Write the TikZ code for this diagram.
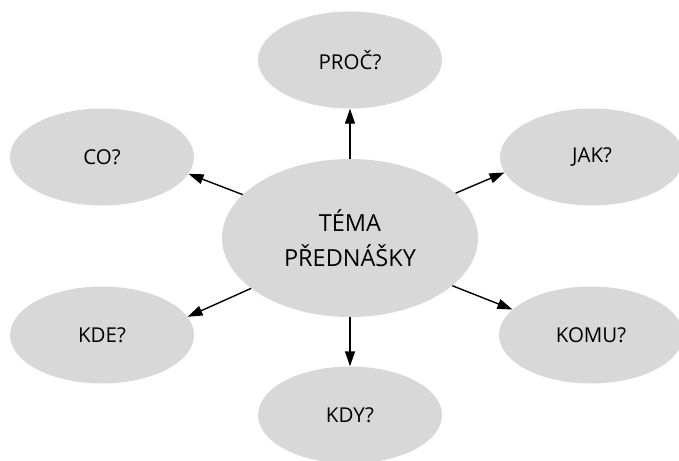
\documentclass[tikz,border=0pt]{standalone}
\usepackage{fontspec}
\setmainfont{Open Sans}
\usetikzlibrary{shapes.geometric,arrows.meta}
\definecolor{bubble}{RGB}{216,216,216}
\tikzset{
  bub/.style={ellipse, fill=bubble, draw=none, inner sep=0pt,
    minimum width=184pt, minimum height=97pt, font=\fontsize{20.5}{24}\selectfont},
  hub/.style={ellipse, fill=bubble, draw=none, inner sep=0pt,
    minimum width=256pt, minimum height=158pt, align=center,
    font=\fontsize{23.5}{35}\selectfont},
  link/.style={line width=1.4pt, -{Triangle[length=15pt,width=10pt]}}
}
\begin{document}
\begin{tikzpicture}[x=1pt,y=-1pt]
\useasboundingbox (0,0) rectangle (679,460);
\node[hub] (c) at (350,238) {TÉMA\\PŘEDNÁŠKY};
\node[bub] (proc) at (350,60) {PROČ?};
\node[bub] (co) at (102,157) {CO?};
\node[bub] (jak) at (592,157) {JAK?};
\node[bub] (kde) at (102,335) {KDE?};
\node[bub] (komu) at (591,335) {KOMU?};
\node[bub] (kdy) at (350,415) {KDY?};
\draw[link] (c.north) -- (proc.south);
\draw[link] (c.south) -- (kdy.north);
\draw[link] (c.158) -- (co.-11);
\draw[link] (c.23) -- (jak.190);
\draw[link] (c.207) -- (kde.12);
\draw[link] (c.-25) -- (komu.162);
\end{tikzpicture}
\end{document}
